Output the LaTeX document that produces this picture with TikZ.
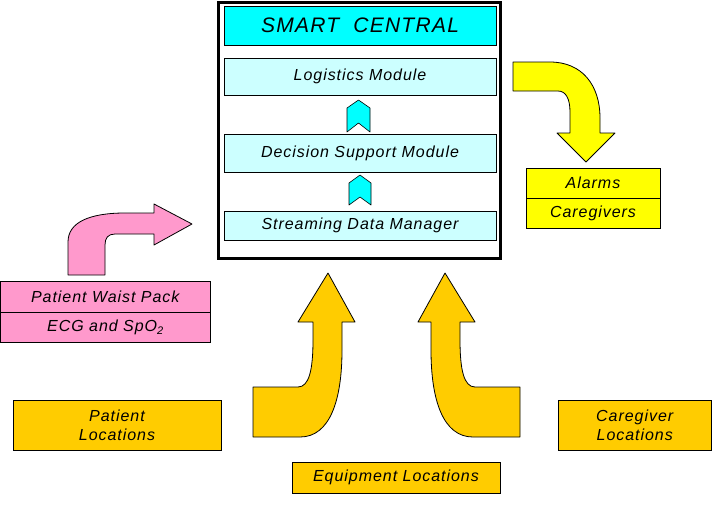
\documentclass[tikz,border=0pt]{standalone}
\usepackage{fontspec}
\setmainfont{Liberation Sans}
\newfontfamily\af[LetterSpace=6]{Liberation Sans}
\definecolor{cyanA}{HTML}{00FFFF}
\definecolor{cyanB}{HTML}{CCFFFF}
\definecolor{yel}{HTML}{FFFF00}
\definecolor{org}{HTML}{FFCC00}
\definecolor{pnk}{HTML}{FF99CC}
\begin{document}
\begin{tikzpicture}[x=1pt,y=-1pt,
  box/.style={draw=black, line width=0.8pt, inner sep=0pt, outer sep=0pt, text=black,
    font=\af\itshape\fontsize{16}{19}\selectfont, align=center},
  shapeline/.style={draw=black, line width=0.8pt, line join=round}]
\useasboundingbox (0,0) rectangle (712,512);
% central frame
\node[draw=black, line width=3pt, minimum width=282pt, minimum height=256pt, inner sep=0pt] (frame) at (359,130) {};
\node[box, fill=cyanA, minimum width=272pt, minimum height=39pt, font=\af\itshape\fontsize{21}{25}\selectfont] (smart) at (360,25.5) {SMART\ \ CENTRAL};
\node[box, fill=cyanB, minimum width=272pt, minimum height=37pt] (logi) at (360,76.5) {Logistics Module};
\node[box, fill=cyanB, minimum width=272pt, minimum height=38pt] (deci) at (360,153) {Decision Support Module};
\node[box, fill=cyanB, minimum width=272pt, minimum height=29pt] (stream) at (360,225.5) {Streaming Data Manager};
% chevrons
\draw[shapeline, line width=0.6pt, fill=cyanA] (347,108) -- (358.5,100) -- (370,108) -- (370,132) -- (358.5,123) -- (347,132) -- cycle;
\draw[shapeline, line width=0.6pt, fill=cyanA] (349,183) -- (360,175) -- (371,183) -- (371,205) -- (360,197) -- (349,205) -- cycle;
% alarms
\node[box, fill=yel, minimum width=134pt, minimum height=30pt] (alarms) at (593,183) {Alarms};
\node[box, fill=yel, minimum width=134pt, minimum height=30pt] (care) at (593,213) {Caregivers};
% yellow arrow
\draw[shapeline, fill=yel] (513,62) -- (550,62) .. controls (582,62) and (600,85) .. (600,118) -- (600,133) -- (615,133) -- (586,162) -- (557,133) -- (570,133) -- (570,112) .. controls (570,99) and (566,91) .. (558,91) -- (513,91) -- cycle;
% pink
\node[box, fill=pnk, minimum width=209.5pt, minimum height=31pt] (waist) at (105.25,296.5) {Patient Waist Pack};
\node[box, fill=pnk, minimum width=209.5pt, minimum height=30pt] (ecg) at (105.25,327) {ECG and SpO\raisebox{-0.22em}{\fontsize{11}{11}\selectfont 2}};
\draw[shapeline, fill=pnk] (68,275) -- (68,242) .. controls (68,222) and (90,213) .. (125,213) -- (154,213) -- (154,204) -- (192,224) -- (154,245) -- (154,234) -- (115,234) .. controls (108,234) and (105,238) .. (105,245) -- (105,275) -- cycle;
% orange arrows
\draw[shapeline, fill=org] (253,387) -- (298,387) .. controls (309,387) and (313,370) .. (313,340) -- (313,322) -- (298,322) -- (328,273) -- (355,322) -- (342,322) -- (342,350) .. controls (342,400) and (330,437) .. (300,437) -- (253,437) -- cycle;
\draw[shapeline, fill=org] (520,387) -- (475,387) .. controls (464,387) and (460,370) .. (460,340) -- (460,322) -- (475,322) -- (445,273) -- (418,322) -- (431,322) -- (431,350) .. controls (431,400) and (443,437) .. (473,437) -- (520,437) -- cycle;
% location boxes
\node[box, fill=org, minimum width=208pt, minimum height=50pt] (ploc) at (117,425) {Patient\\Locations};
\node[box, fill=org, minimum width=153.5pt, minimum height=50pt] (cloc) at (634.75,425) {Caregiver\\Locations};
\node[box, fill=org, minimum width=208pt, minimum height=31pt] (eloc) at (396,477.5) {Equipment Locations};
\end{tikzpicture}
\end{document}
